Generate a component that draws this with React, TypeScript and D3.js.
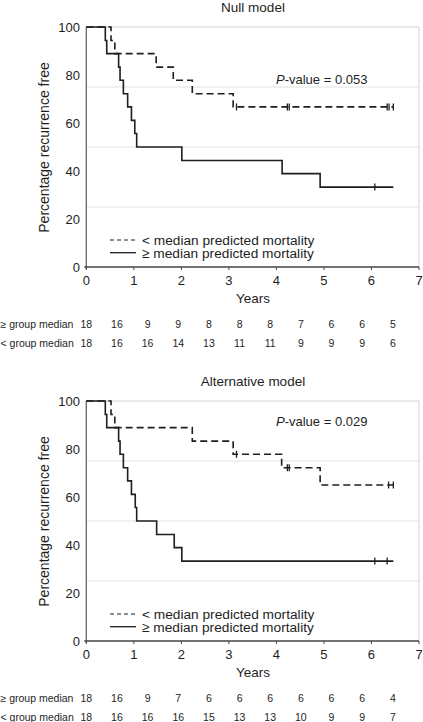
import React from "react";
import * as d3 from "d3";

const yTicks = [0, 20, 40, 60, 80, 100];
const xTicks = [0, 1, 2, 3, 4, 5, 6, 7];
const gridValues = [25, 50, 75];

// Null model
const nullHighTimes = [0, 0.4, 0.43, 0.68, 0.71, 0.78, 0.87, 0.95, 1.02, 1.06, 2.01, 4.12, 4.92];
const nullHighSurv = [100, 94.4, 88.9, 83.3, 77.8, 72.2, 66.7, 61.1, 55.6, 50.0, 44.4, 38.9, 33.3];
const nullHighCensor = [6.07];
const nullLowTimes = [0, 0.52, 0.6, 1.47, 1.83, 2.23, 3.09];
const nullLowSurv = [100, 94.4, 88.9, 83.3, 77.8, 72.2, 66.7];
const nullLowCensor = [3.16, 4.23, 4.27, 6.33, 6.37, 6.46];
const nullRiskHigh = [18, 16, 9, 9, 8, 8, 8, 7, 6, 6, 5];
const nullRiskLow = [18, 16, 16, 14, 13, 11, 11, 9, 9, 9, 6];

// Alternative model
const altHighTimes = [0, 0.4, 0.43, 0.68, 0.71, 0.78, 0.87, 0.95, 1.03, 1.06, 1.48, 1.85, 2.01];
const altHighSurv = [100, 94.4, 88.9, 83.3, 77.8, 72.2, 66.7, 61.1, 55.6, 50.0, 44.4, 38.9, 33.3];
const altHighCensor = [6.07, 6.33];
const altLowTimes = [0, 0.52, 0.6, 2.23, 3.09, 4.11, 4.92];
const altLowSurv = [100, 94.4, 88.9, 83.3, 77.8, 72.2, 65.0];
const altLowCensor = [3.16, 4.23, 4.27, 6.36, 6.46];
const altRiskHigh = [18, 16, 9, 7, 6, 6, 6, 6, 6, 6, 4];
const altRiskLow = [18, 16, 16, 16, 15, 13, 13, 10, 9, 9, 7];

const followEnd = 6.46;
const FONT = "'Liberation Sans', Arial, Helvetica, sans-serif";
const INK = "#1e1e1e";

type PanelProps = {
  dy: number;
  title: string;
  pValue: string;
  pY: number;
  highTimes: number[];
  highSurv: number[];
  highCensor: number[];
  lowTimes: number[];
  lowSurv: number[];
  lowCensor: number[];
  riskHigh: number[];
  riskLow: number[];
};

function Panel(p: PanelProps) {
  const x = d3.scaleLinear().domain([0, 7]).range([86.3, 419]);
  const y = d3.scaleLinear().domain([0, 100]).range([267, 27]);
  const riskX = d3
    .scalePoint<number>()
    .domain(d3.range(p.riskHigh.length))
    .range([86.3, 392.8]);

  const line = d3
    .line<[number, number]>()
    .x((d) => x(d[0]))
    .y((d) => y(d[1]))
    .curve(d3.curveStepAfter);

  const mk = (times: number[], surv: number[]) => {
    const pts: [number, number][] = times.map((t, i) => [t, surv[i]]);
    pts.push([followEnd, surv[surv.length - 1]]);
    return line(pts) || "";
  };

  const survAt = (times: number[], surv: number[], t: number) => {
    let v = surv[0];
    for (let i = 0; i < times.length; i++) if (times[i] <= t) v = surv[i];
    return v;
  };

  return (
    <g transform={`translate(0,${p.dy})`}>
      <text x={253} y={12} fontSize={13.5} textAnchor="middle" fill={INK} fontFamily={FONT}>
        {p.title}
      </text>
      {/* frame and grid */}
      {gridValues.map((g) => (
        <line key={g} x1={x(0)} x2={x(7)} y1={y(g)} y2={y(g)} stroke="#e2e2e2" strokeWidth={1} />
      ))}
      <line x1={x(0)} x2={x(7)} y1={y(100)} y2={y(100)} stroke="#d4d4d4" strokeWidth={1} />
      <line x1={x(7)} x2={x(7)} y1={y(100)} y2={y(0)} stroke="#d4d4d4" strokeWidth={1} />
      {/* axes */}
      <line x1={x(0)} x2={x(0)} y1={y(100)} y2={y(0) + 2} stroke="#666" strokeWidth={1.3} />
      <line x1={x(0) - 2} x2={x(7)} y1={y(0)} y2={y(0)} stroke="#444" strokeWidth={1.3} />
      {xTicks.map((t) => (
        <g key={t}>
          <line x1={x(t)} x2={x(t)} y1={y(0)} y2={y(0) + 3} stroke="#444" strokeWidth={1} />
          <text x={x(t)} y={285} fontSize={13} textAnchor="middle" fill={INK} fontFamily={FONT}>
            {t}
          </text>
        </g>
      ))}
      {yTicks.map((t) => (
        <text key={t} x={80} y={y(t) + 4.7} fontSize={13} textAnchor="end" fill={INK} fontFamily={FONT}>
          {t}
        </text>
      ))}
      <text
        transform={`translate(49,147.5) rotate(-90)`}
        fontSize={14}
        textAnchor="middle"
        fill={INK}
        fontFamily={FONT}
      >
        Percentage recurrence free
      </text>
      <text x={253} y={303} fontSize={13.5} textAnchor="middle" fill={INK} fontFamily={FONT}>
        Years
      </text>
      {/* curves */}
      <path d={mk(p.lowTimes, p.lowSurv)} fill="none" stroke={INK} strokeWidth={1.6} strokeDasharray="7,4" />
      <path d={mk(p.highTimes, p.highSurv)} fill="none" stroke={INK} strokeWidth={1.6} />
      {p.lowCensor.map((c, i) => {
        const v = survAt(p.lowTimes, p.lowSurv, c);
        return <line key={"l" + i} x1={x(c)} x2={x(c)} y1={y(v) - 3.5} y2={y(v) + 3.5} stroke={INK} strokeWidth={1.3} />;
      })}
      {p.highCensor.map((c, i) => {
        const v = survAt(p.highTimes, p.highSurv, c);
        return <line key={"h" + i} x1={x(c)} x2={x(c)} y1={y(v) - 3.5} y2={y(v) + 3.5} stroke={INK} strokeWidth={1.3} />;
      })}
      {/* p-value */}
      <text x={276} y={p.pY} fontSize={13} fill={INK} fontFamily={FONT}>
        <tspan fontStyle="italic">P</tspan>-value = {p.pValue}
      </text>
      {/* legend */}
      <line x1={110} x2={135} y1={240} y2={240} stroke={INK} strokeWidth={1} strokeDasharray="4,3" />
      <text x={142} y={245} fontSize={13.7} fill={INK} fontFamily={FONT}>
        {"< median predicted mortality"}
      </text>
      <line x1={110} x2={136} y1={252.7} y2={252.7} stroke={INK} strokeWidth={1.3} />
      <text x={142} y={257.5} fontSize={13.7} fill={INK} fontFamily={FONT}>
        {"≥ median predicted mortality"}
      </text>
      {/* numbers at risk */}
      <text x={0.5} y={328.3} fontSize={10.5} fill={INK} fontFamily={FONT}>
        ≥ group median
      </text>
      <text x={0.5} y={347} fontSize={10.5} fill={INK} fontFamily={FONT}>
        {"< group median"}
      </text>
      {p.riskHigh.map((n, i) => (
        <text key={"rh" + i} x={riskX(i)} y={328.3} fontSize={10.5} textAnchor="middle" fill={INK} fontFamily={FONT}>
          {n}
        </text>
      ))}
      {p.riskLow.map((n, i) => (
        <text key={"rl" + i} x={riskX(i)} y={347} fontSize={10.5} textAnchor="middle" fill={INK} fontFamily={FONT}>
          {n}
        </text>
      ))}
    </g>
  );
}

export default function App() {
  return (
    <svg
      width={423}
      height={722}
      style={{ position: "absolute", left: 0, top: 0, background: "#fff" }}
    >
      <rect width={423} height={722} fill="#fff" />
      <Panel
        dy={0}
        title="Null model"
        pValue="0.053"
        pY={84}
        highTimes={nullHighTimes}
        highSurv={nullHighSurv}
        highCensor={nullHighCensor}
        lowTimes={nullLowTimes}
        lowSurv={nullLowSurv}
        lowCensor={nullLowCensor}
        riskHigh={nullRiskHigh}
        riskLow={nullRiskLow}
      />
      <Panel
        dy={374}
        title="Alternative model"
        pValue="0.029"
        pY={52}
        highTimes={altHighTimes}
        highSurv={altHighSurv}
        highCensor={altHighCensor}
        lowTimes={altLowTimes}
        lowSurv={altLowSurv}
        lowCensor={altLowCensor}
        riskHigh={altRiskHigh}
        riskLow={altRiskLow}
      />
    </svg>
  );
}
